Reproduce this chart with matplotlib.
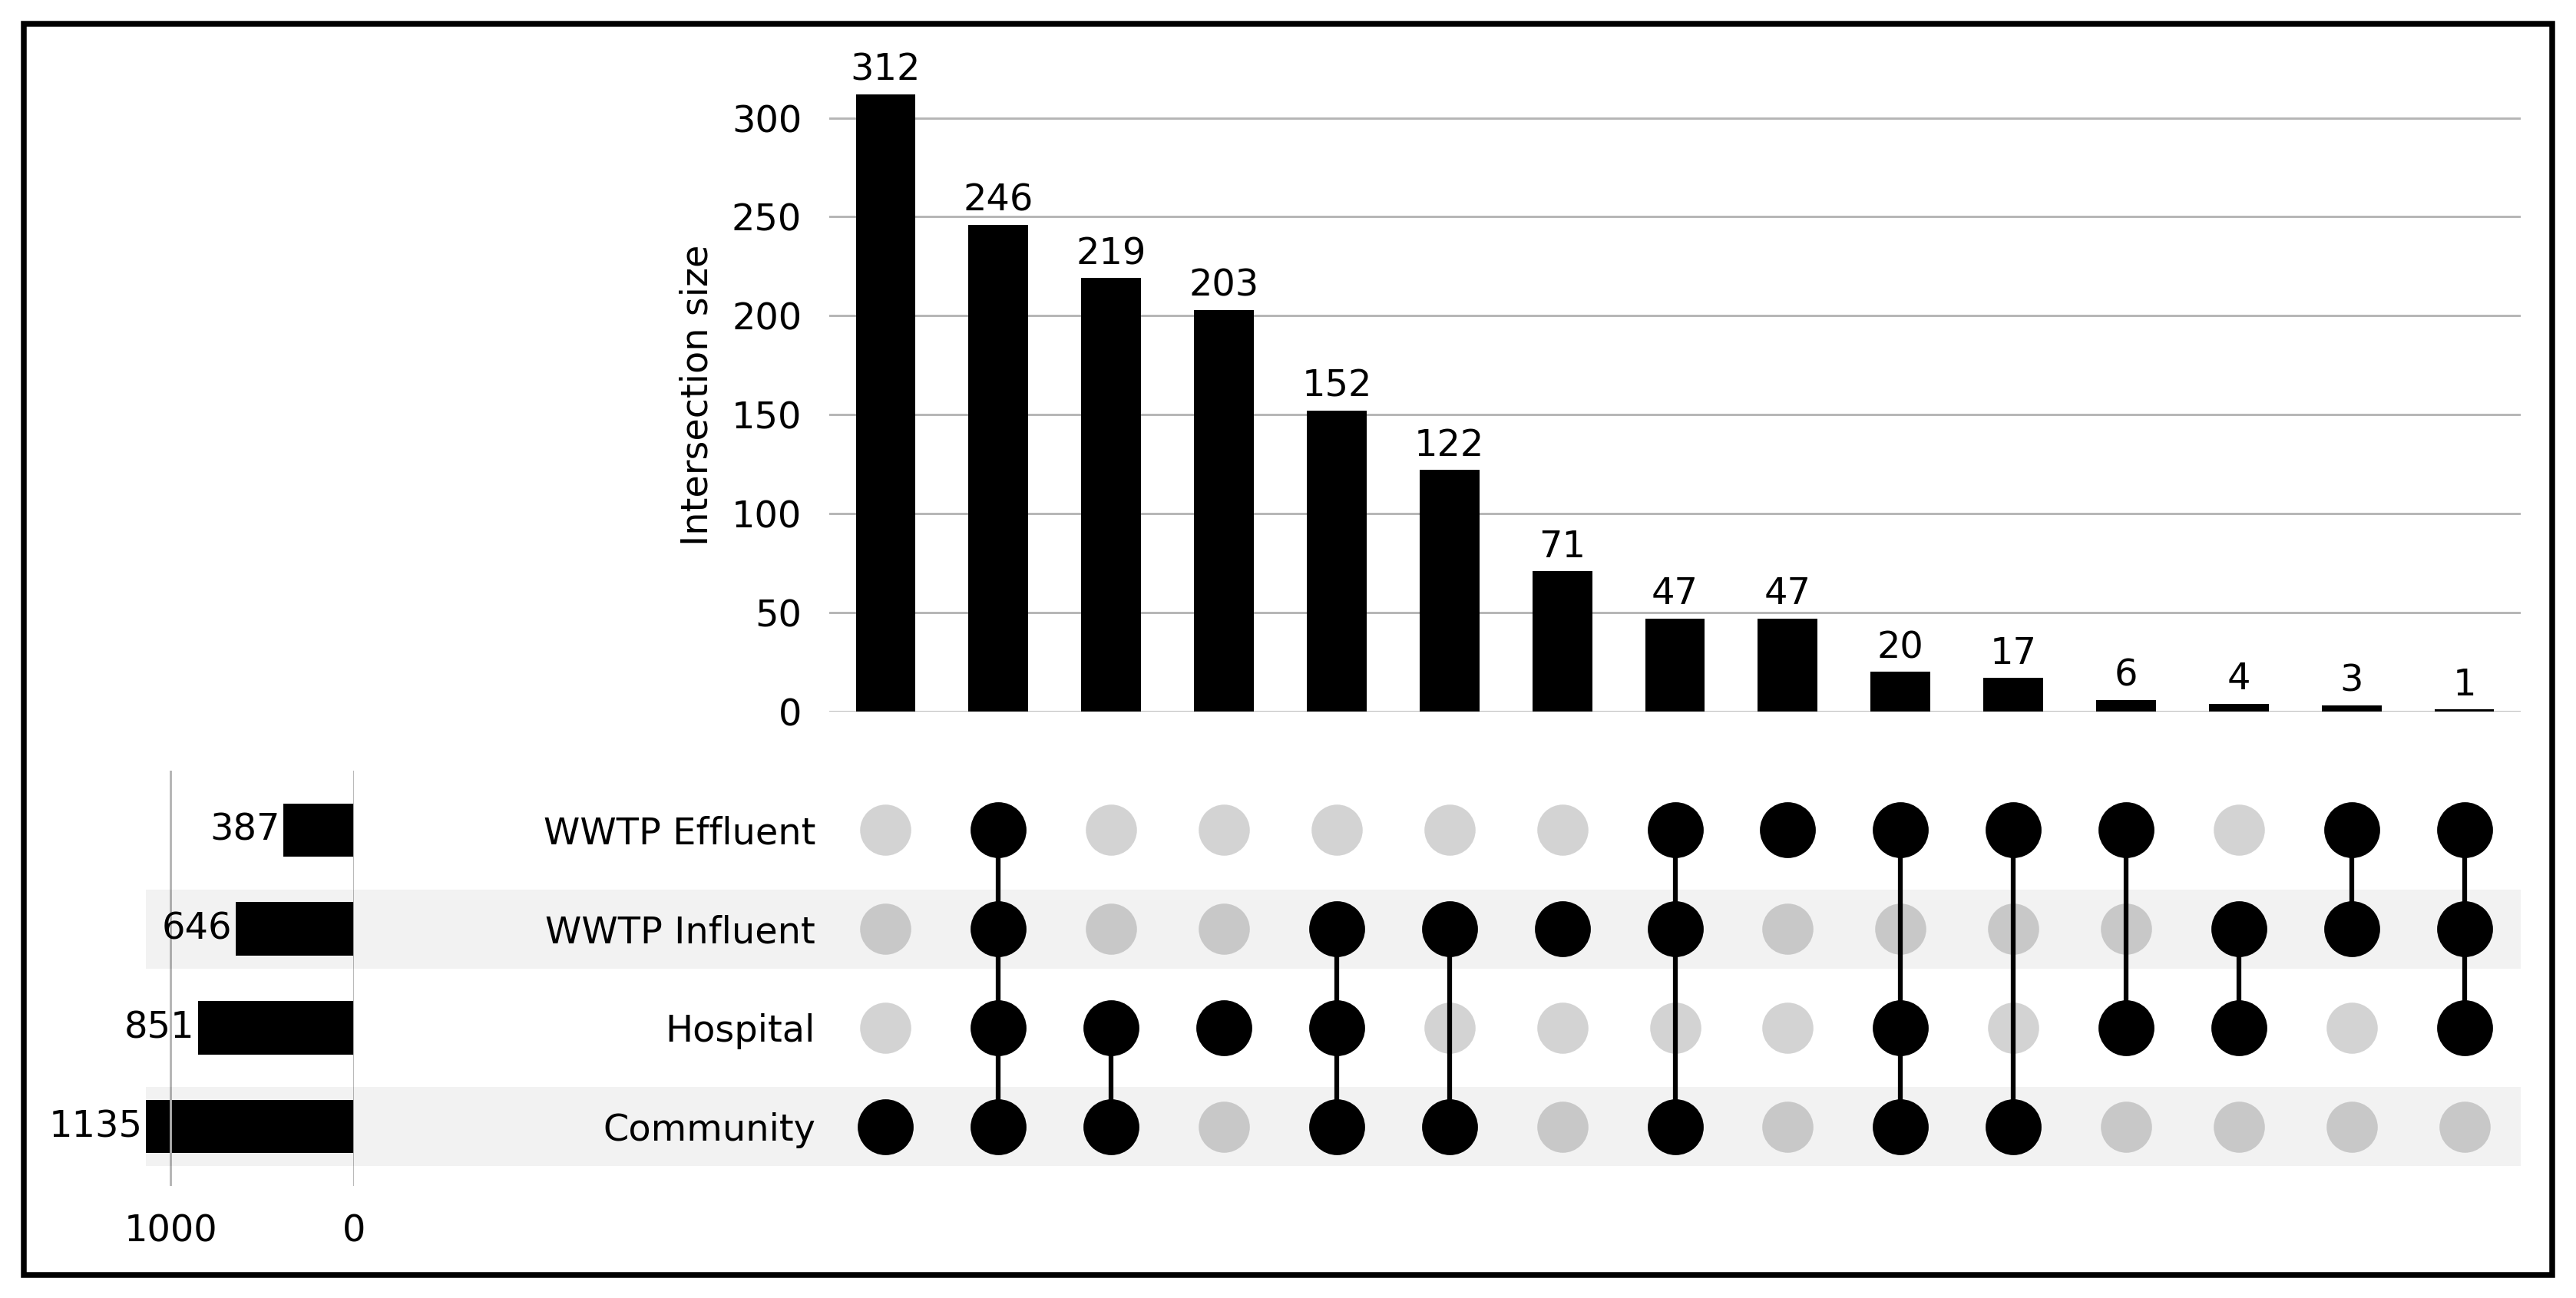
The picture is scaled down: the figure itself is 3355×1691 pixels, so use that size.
import numpy as np
import matplotlib
matplotlib.use("Agg")
import matplotlib.pyplot as plt
from matplotlib.patches import Rectangle

# categories, bottom row first
categories = ["Community", "Hospital", "WWTP Influent", "WWTP Effluent"]
set_totals = [1135, 851, 646, 387]

# intersection sizes, largest first
inter_sizes = [312, 246, 219, 203, 152, 122, 71, 47, 47, 20, 17, 6, 4, 3, 1]

# membership of every intersection (names of the sets taking part)
inter_members = [
    ["Community"],
    ["WWTP Effluent", "WWTP Influent", "Hospital", "Community"],
    ["Hospital", "Community"],
    ["Hospital"],
    ["WWTP Influent", "Hospital", "Community"],
    ["WWTP Influent", "Community"],
    ["WWTP Influent"],
    ["WWTP Effluent", "WWTP Influent", "Community"],
    ["WWTP Effluent"],
    ["WWTP Effluent", "Hospital", "Community"],
    ["WWTP Effluent", "Community"],
    ["WWTP Effluent", "Hospital"],
    ["WWTP Influent", "Hospital"],
    ["WWTP Effluent", "WWTP Influent"],
    ["WWTP Effluent", "WWTP Influent", "Hospital"],
]

bar_ticks = [0, 50, 100, 150, 200, 250, 300]
total_ticks = [1000, 0]

FS = 11.5
W, H = 3355, 1691
plt.rcParams["font.family"] = ["DejaVu Sans"]

fig = plt.figure(figsize=(W / 300, H / 300), dpi=300)

# layout in pixels
mat_l, mat_r = 1080, 3283
bar_bot, bar_top = 927, 102
mat_top, mat_bot = 1004, 1545
tot_l, tot_r = 190, 461

ax_tot = fig.add_axes([tot_l / W, 1 - mat_bot / H, (tot_r - tot_l) / W, (mat_bot - mat_top) / H])
ax_bar = fig.add_axes([mat_l / W, 1 - bar_bot / H, (mat_r - mat_l) / W, (bar_bot - bar_top) / H])
ax_mat = fig.add_axes([mat_l / W, 1 - mat_bot / H, (mat_r - mat_l) / W, (mat_bot - mat_top) / H])

n = len(inter_sizes)
xs = np.arange(n)
rows = np.arange(len(categories))
grid_col = "#b5b5b5"

# ---- intersection size bars
bars = ax_bar.bar(xs, inter_sizes, width=0.53, color="black", zorder=3)
ax_bar.bar_label(bars, padding=2, fontsize=FS)
ax_bar.set_xlim(-0.5, n - 0.5)
ax_bar.set_ylim(0, 320)
ax_bar.set_yticks(bar_ticks)
ax_bar.set_xticks([])
ax_bar.tick_params(axis="y", length=0, pad=8.6, labelsize=FS)
ax_bar.yaxis.grid(True, color=grid_col, lw=0.7)
ax_bar.set_axisbelow(True)
ax_bar.set_ylabel("Intersection size", fontsize=FS, labelpad=5)
for s in ax_bar.spines.values():
    s.set_visible(False)

# ---- set totals
ax_tot.barh(rows, set_totals, height=0.54, color="black", zorder=1)
for r, v in zip(rows, set_totals):
    ax_tot.annotate(str(v), (v, r), xytext=(-1.0, 0), textcoords="offset points",
                    ha="right", va="center", fontsize=FS)
ax_tot.set_xlim(max(set_totals), 0)
ax_tot.set_ylim(-0.6, len(categories) - 0.4)
ax_tot.set_xticks(total_ticks)
ax_tot.set_yticks([])
ax_tot.tick_params(axis="x", length=0, pad=8.4, labelsize=FS)
ax_tot.xaxis.grid(True, color=grid_col, lw=0.7, zorder=5)
ax_tot.set_axisbelow(False)
ax_tot.patch.set_visible(False)
for s in ax_tot.spines.values():
    s.set_visible(False)

# ---- matrix of dots
for i, members in enumerate(inter_members):
    on = [categories.index(m) for m in members]
    off = [r for r in rows if r not in on]
    ax_mat.scatter([i] * len(off), off, s=255, color="#d3d3d3", lw=0, zorder=2)
    ax_mat.scatter([i] * len(on), on, s=305, color="black", lw=0, zorder=3)
    if len(on) > 1:
        ax_mat.plot([i, i], [min(on), max(on)], color="black", lw=1.5, zorder=3)

ax_mat.set_xlim(-0.5, n - 0.5)
ax_mat.set_ylim(-0.6, len(categories) - 0.4)
ax_mat.set_yticks(rows)
ax_mat.set_yticklabels(categories)
ax_mat.set_xticks([])
ax_mat.tick_params(axis="y", length=0, pad=4.3, labelsize=FS)
ax_mat.patch.set_visible(False)
for s in ax_mat.spines.values():
    s.set_visible(False)

# row shading over matrix, labels and totals
ext = (tot_l - mat_l) / (mat_r - mat_l)
for r in rows[::2]:
    ax_mat.axhspan(r - 0.4, r + 0.4, xmin=ext, xmax=1, color="black", alpha=0.05,
                   lw=0, zorder=10, clip_on=False)

# frame round the figure
fig.patches.append(Rectangle((31 / W, 1 - 1661 / H), (3324 - 31) / W, (1661 - 31) / H,
                             transform=fig.transFigure, fill=False, edgecolor="black", lw=1.8))

fig.savefig("out.png", dpi=300, facecolor="white")
